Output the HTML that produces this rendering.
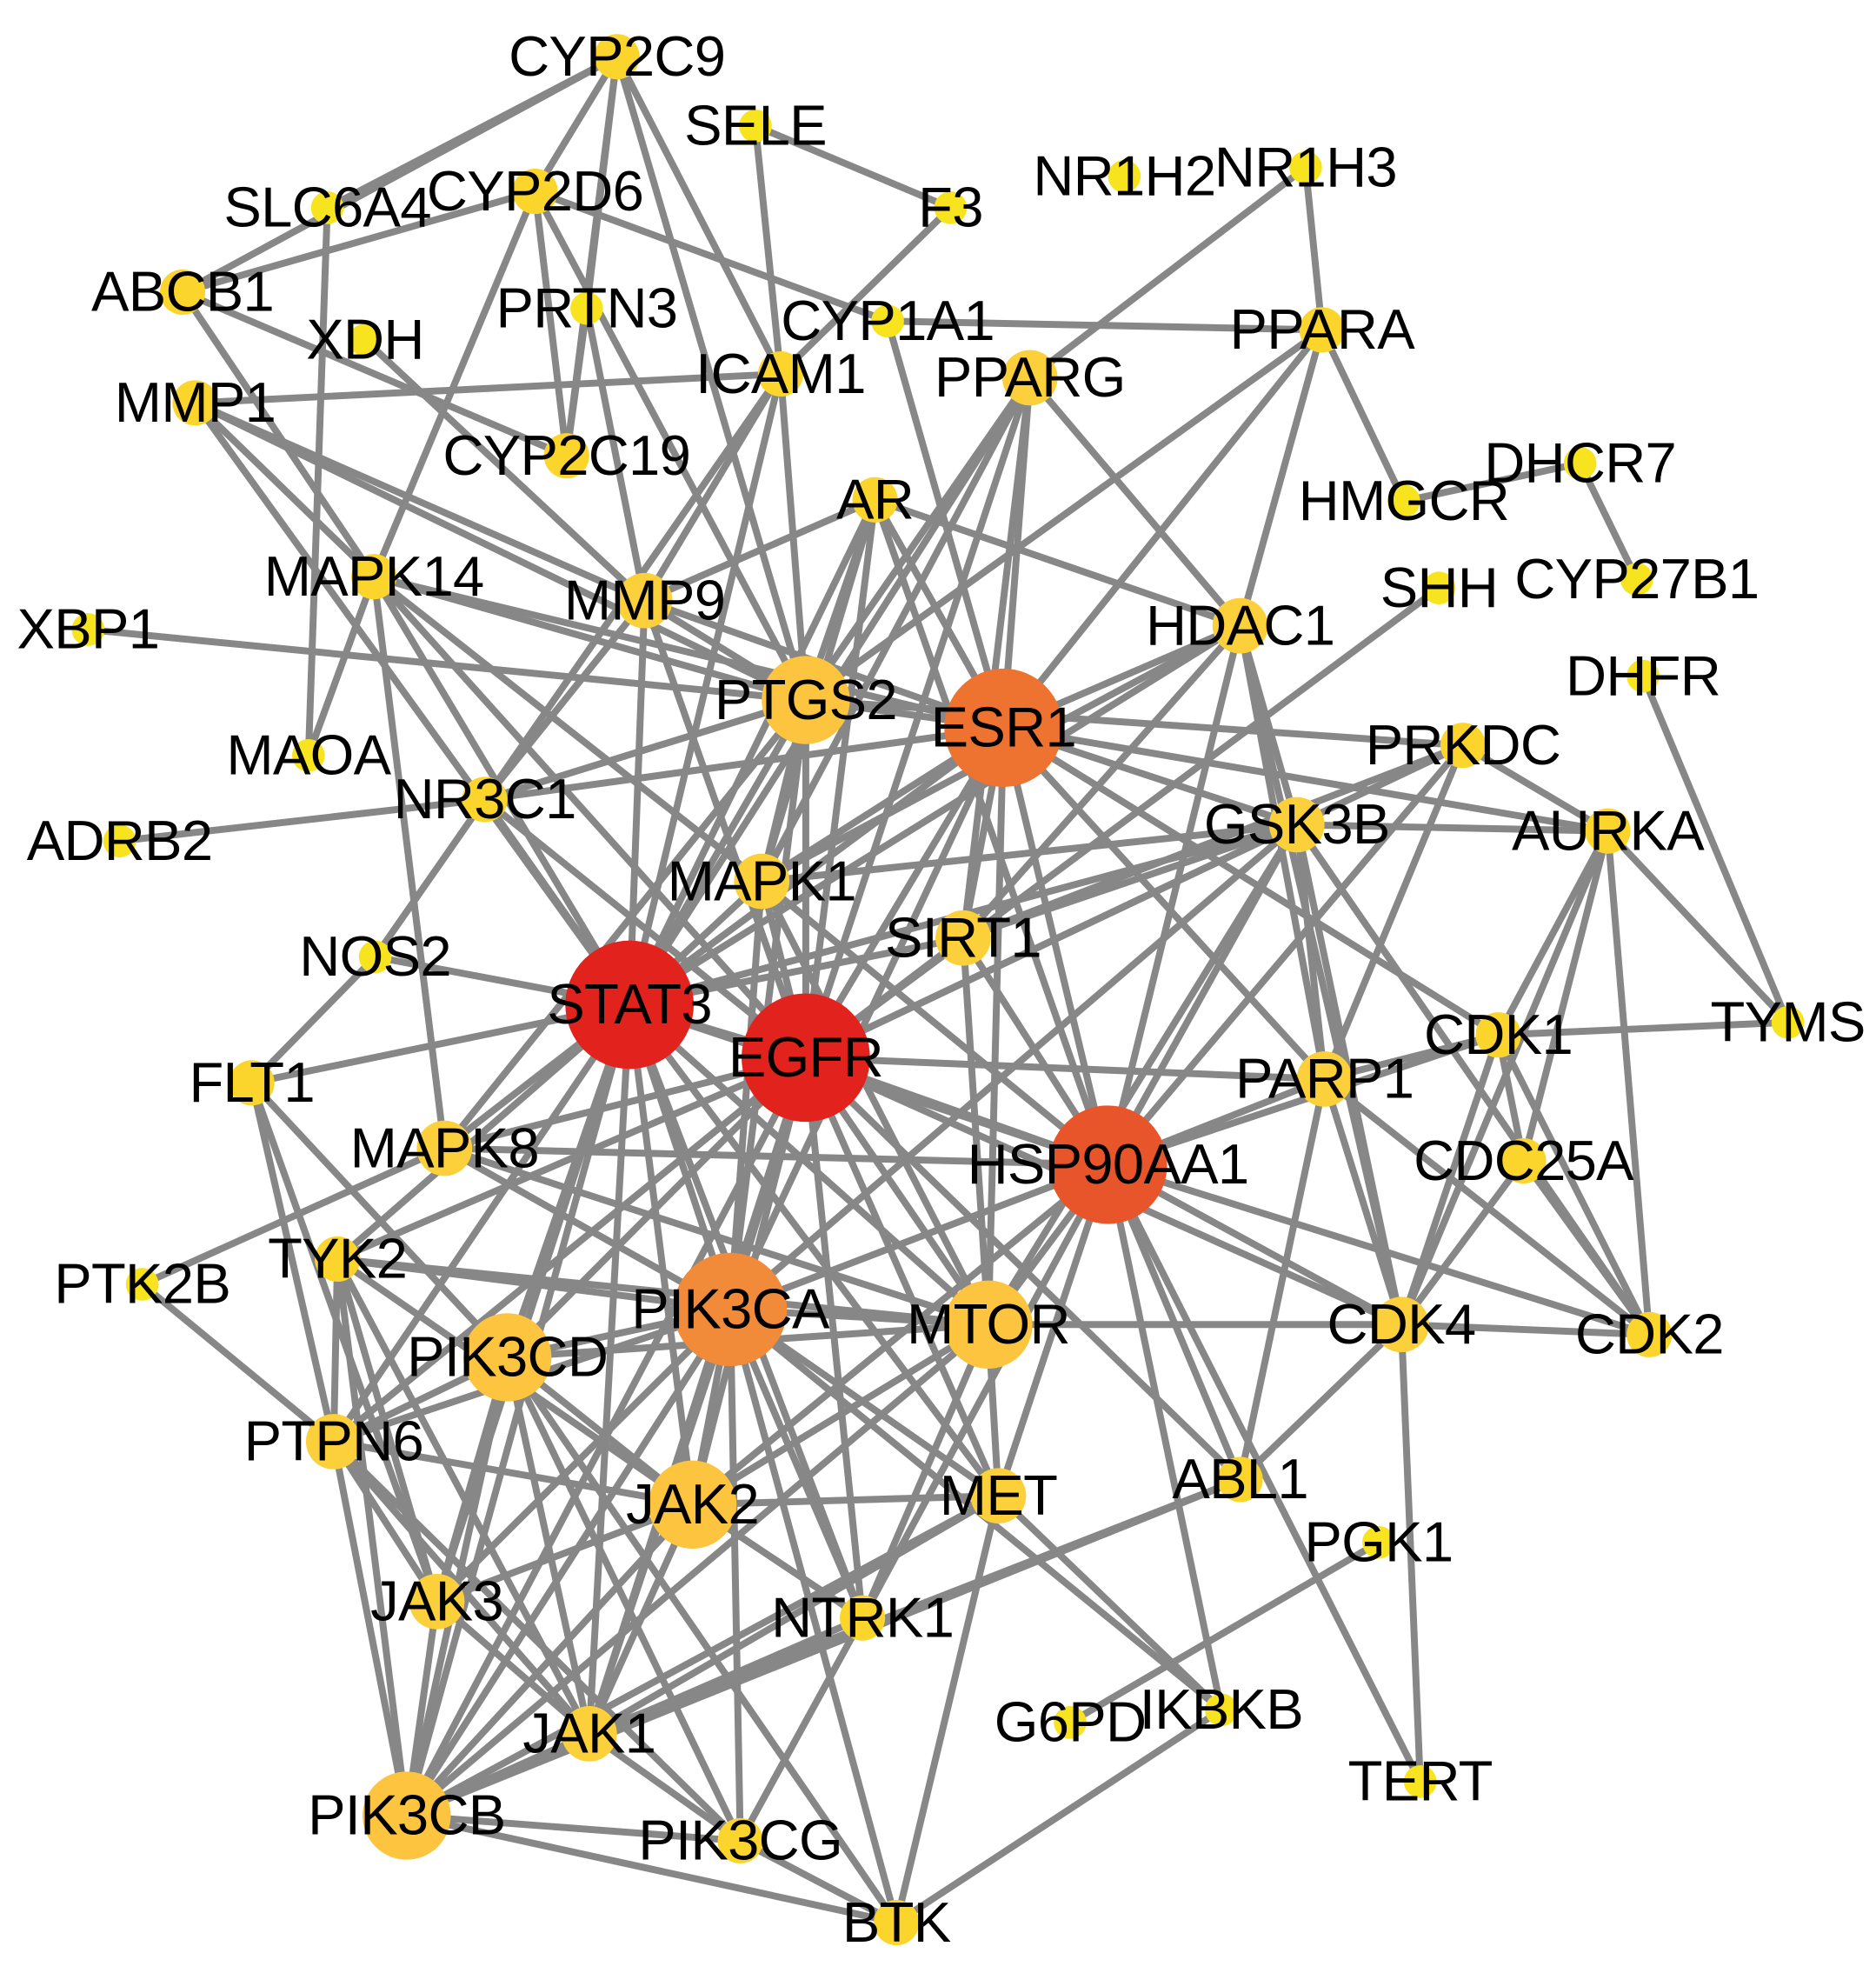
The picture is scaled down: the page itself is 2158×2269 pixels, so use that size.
<!DOCTYPE html>
<html><head><meta charset="utf-8"><style>
html,body{margin:0;padding:0;background:#fff;width:2158px;height:2269px;overflow:hidden}
svg{display:block}
text{font-family:"Liberation Sans",Arial,sans-serif;font-size:45px;fill:#000;text-anchor:middle;letter-spacing:-0.5px}
</style></head><body>
<svg id="g" width="2158" height="2269" viewBox="0 0 1490 1567" preserveAspectRatio="none" xmlns="http://www.w3.org/2000/svg">
<g id="E" stroke="#878787" stroke-width="5.5" stroke-linecap="round"></g>
<g id="N"></g>
<g id="T"></g>
</svg>
<script>
var n={
CYP2C9:[490,45,1],SELE:[600,100,0],F3:[755,165,0],NR1H2:[893,140,0],NR1H3:[1037,133,0],SLC6A4:[260,165,0],
CYP2D6:[425,152,1],ABCB1:[145,232,1],XDH:[290,270,0],PRTN3:[466,245,0],CYP1A1:[705,255,0],ICAM1:[620,297,1],
PPARA:[1050,262,1],PPARG:[818,300,2],MMP1:[155,320,1],CYP2C19:[450,362,1],DHCR7:[1255,368,0],HMGCR:[1115,398,0],
AR:[695,397,1],CYP27B1:[1300,460,0],MAPK14:[297,458,1],MMP9:[512,477,2],SHH:[1143,467,0],HDAC1:[985,497,2],
XBP1:[70,500,0],DHFR:[1305,537,0],PTGS2:[640,556,3],ESR1:[797,578,5],MAOA:[245,600,0],PRKDC:[1162,592,1],
NR3C1:[385,635,1],GSK3B:[1030,655,2],AURKA:[1277,660,1],ADRB2:[95,668,0],MAPK1:[605,700,2],SIRT1:[765,745,2],
NOS2:[298,760,0],STAT3:[500,798,6],EGFR:[640,840,6],TYMS:[1420,812,0],CDK1:[1190,822,1],FLT1:[200,860,1],
PARP1:[1052,857,2],HSP90AA1:[880,925,7],MAPK8:[353,912,2],CDC25A:[1210,922,1],TYK2:[268,1000,1],PTK2B:[113,1020,0],
PIK3CA:[580,1040,8],MTOR:[785,1052,3],CDK4:[1113,1052,2],CDK2:[1310,1060,1],PIK3CD:[403,1078,3],PTPN6:[265,1145,2],
JAK2:[550,1195,3],MET:[793,1188,2],ABL1:[985,1175,1],PGK1:[1095,1225,0],JAK3:[347,1272,2],NTRK1:[685,1285,1],
G6PD:[850,1368,0],IKBKB:[970,1358,0],JAK1:[468,1377,2],TERT:[1128,1415,0],PIK3CB:[323,1442,3],PIK3CG:[588,1462,1],BTK:[712,1527,1]
};
var sty=[[13,"#f8e31f"],[18,"#fbd52c"],[22,"#fcd03a"],[35,"#fcc43f"],[0,0],[47,"#ee7331"],[51,"#e2221d"],[47,"#e9552a"],[45,"#f18b39"]];
var e="CYP2C9-SLC6A4 CYP2C9-ABCB1 CYP2C9-CYP2D6 CYP2C9-PRTN3 CYP2C9-ICAM1 CYP2C9-PTGS2 CYP2C9-CYP2C19 SELE-F3 SELE-ICAM1 F3-ICAM1 CYP2D6-ABCB1 CYP2D6-CYP2C19 CYP2D6-CYP1A1 CYP2D6-MAPK14 CYP2D6-PTGS2 SLC6A4-MAOA ABCB1-CYP2C19 ABCB1-MAPK14 XDH-MMP9 PRTN3-CYP2C19 PRTN3-MMP9 CYP1A1-PPARA CYP1A1-ESR1 ICAM1-MMP1 ICAM1-MMP9 ICAM1-PTGS2 ICAM1-STAT3 ICAM1-NR3C1 NR1H3-PPARA NR1H3-PPARG PPARA-HMGCR PPARA-HDAC1 PPARA-ESR1 PPARA-PTGS2 PPARG-ESR1 PPARG-PTGS2 PPARG-STAT3 PPARG-EGFR PPARG-MAPK1 PPARG-HDAC1 PPARG-SIRT1 MMP1-PTGS2 MMP1-MMP9 MMP1-MAPK14 MMP1-STAT3 DHCR7-HMGCR DHCR7-CYP27B1 AR-ESR1 AR-MMP9 AR-HDAC1 AR-STAT3 AR-EGFR AR-MAPK1 AR-HSP90AA1 AR-PTGS2 MAPK14-PTGS2 MAPK14-ESR1 MAPK14-MAPK8 MAPK14-STAT3 MAPK14-MAOA MAPK14-EGFR MAPK14-MAPK1 MMP9-PTGS2 MMP9-STAT3 MMP9-EGFR MMP9-ESR1 MMP9-NR3C1 XBP1-PTGS2 SHH-EGFR HDAC1-ESR1 HDAC1-STAT3 HDAC1-SIRT1 HDAC1-PARP1 HDAC1-HSP90AA1 HDAC1-MAPK1 HDAC1-CDK4 HDAC1-GSK3B DHFR-TYMS PTGS2-ESR1 PTGS2-STAT3 PTGS2-EGFR PTGS2-NR3C1 PTGS2-MAPK1 PTGS2-PIK3CA PTGS2-MAPK8 PTGS2-PRKDC ESR1-STAT3 ESR1-EGFR ESR1-HSP90AA1 ESR1-PIK3CA ESR1-MAPK1 ESR1-SIRT1 ESR1-GSK3B ESR1-PARP1 ESR1-CDK1 ESR1-AURKA ESR1-MTOR ESR1-NR3C1 PRKDC-EGFR PRKDC-SIRT1 PRKDC-PARP1 PRKDC-HSP90AA1 PRKDC-AURKA NR3C1-ADRB2 NR3C1-STAT3 NR3C1-NOS2 NR3C1-EGFR GSK3B-STAT3 GSK3B-EGFR GSK3B-SIRT1 GSK3B-HSP90AA1 GSK3B-CDK4 GSK3B-CDK2 GSK3B-AURKA GSK3B-MTOR GSK3B-PARP1 GSK3B-PIK3CA GSK3B-MAPK1 AURKA-CDK1 AURKA-CDC25A AURKA-CDK2 AURKA-CDK4 AURKA-TYMS MAPK1-STAT3 MAPK1-EGFR MAPK1-PIK3CA MAPK1-MTOR MAPK1-HSP90AA1 SIRT1-STAT3 SIRT1-EGFR SIRT1-MTOR SIRT1-HSP90AA1 NOS2-STAT3 NOS2-FLT1 STAT3-EGFR STAT3-FLT1 STAT3-MAPK8 STAT3-TYK2 STAT3-PIK3CA STAT3-PIK3CD STAT3-JAK2 STAT3-JAK1 STAT3-JAK3 STAT3-PTPN6 STAT3-MTOR STAT3-HSP90AA1 STAT3-PIK3CB STAT3-MET STAT3-NTRK1 EGFR-HSP90AA1 EGFR-PIK3CA EGFR-MTOR EGFR-PARP1 EGFR-MAPK8 EGFR-PIK3CD EGFR-JAK2 EGFR-MET EGFR-ABL1 EGFR-PTPN6 EGFR-PIK3CB EGFR-NTRK1 EGFR-TYK2 EGFR-CDK4 EGFR-JAK1 TYMS-CDK1 CDK1-CDK2 CDK1-CDK4 CDK1-CDC25A CDK1-HSP90AA1 CDK1-PARP1 FLT1-PTPN6 FLT1-PIK3CD FLT1-JAK3 PARP1-HSP90AA1 PARP1-CDK4 PARP1-CDK2 PARP1-ABL1 HSP90AA1-PIK3CA HSP90AA1-MTOR HSP90AA1-MAPK8 HSP90AA1-CDK4 HSP90AA1-CDK2 HSP90AA1-MET HSP90AA1-JAK2 HSP90AA1-ABL1 HSP90AA1-IKBKB HSP90AA1-TERT HSP90AA1-NTRK1 MAPK8-PIK3CA MAPK8-MTOR CDC25A-CDK2 CDC25A-CDK4 TYK2-PTPN6 TYK2-JAK2 TYK2-JAK3 TYK2-JAK1 TYK2-PIK3CB TYK2-MTOR TYK2-PIK3CA PTK2B-PTPN6 PTK2B-MAPK8 PIK3CA-MTOR PIK3CA-PIK3CD PIK3CA-JAK2 PIK3CA-MET PIK3CA-NTRK1 PIK3CA-JAK1 PIK3CA-PIK3CB PIK3CA-PIK3CG PIK3CA-PTPN6 PIK3CA-JAK3 PIK3CA-IKBKB PIK3CA-BTK MTOR-CDK4 MTOR-JAK2 MTOR-PIK3CD MTOR-NTRK1 MTOR-PIK3CB MTOR-MET CDK4-CDK2 CDK4-ABL1 CDK4-TERT PIK3CD-PTPN6 PIK3CD-JAK2 PIK3CD-JAK3 PIK3CD-JAK1 PIK3CD-PIK3CB PIK3CD-PIK3CG PIK3CD-BTK PTPN6-JAK2 PTPN6-JAK3 PTPN6-JAK1 PTPN6-PIK3CB PTPN6-PIK3CG JAK2-MET JAK2-JAK1 JAK2-JAK3 JAK2-PIK3CB JAK2-NTRK1 MET-JAK1 MET-PIK3CB MET-IKBKB MET-BTK ABL1-JAK1 ABL1-PIK3CB PGK1-G6PD JAK3-PIK3CB JAK3-JAK1 NTRK1-PIK3CB NTRK1-PIK3CG IKBKB-BTK JAK1-PIK3CB JAK1-PIK3CG PIK3CB-PIK3CG PIK3CB-BTK PIK3CG-BTK".split(" ");
var NS="http://www.w3.org/2000/svg",E=document.getElementById("E"),N=document.getElementById("N"),T=document.getElementById("T");
e.forEach(function(p){var a=p.split("-"),A=n[a[0]],B=n[a[1]];if(!A||!B)return;var l=document.createElementNS(NS,"line");
l.setAttribute("x1",A[0]);l.setAttribute("y1",A[1]);l.setAttribute("x2",B[0]);l.setAttribute("y2",B[1]);E.appendChild(l);});
for(var k in n){var v=n[k],s=sty[v[2]];var c=document.createElementNS(NS,"circle");c.setAttribute("cx",v[0]);c.setAttribute("cy",v[1]);c.setAttribute("r",s[0]);c.setAttribute("fill",s[1]);N.appendChild(c);
var t=document.createElementNS(NS,"text");t.setAttribute("x",v[0]);t.setAttribute("y",v[1]+15);t.textContent=k;T.appendChild(t);}
</script>
</body></html>
